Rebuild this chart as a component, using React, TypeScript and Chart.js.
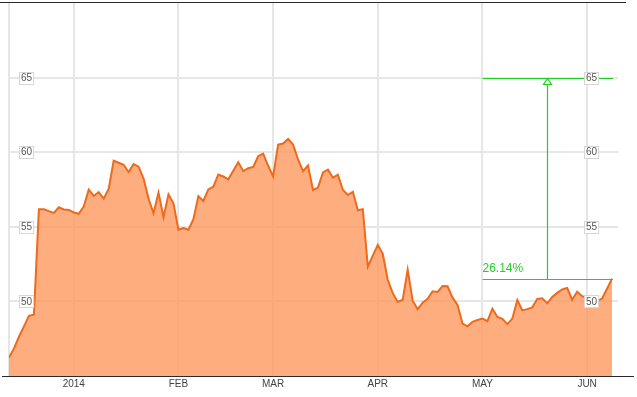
import React, { useEffect, useRef } from 'react';
import { Chart, registerables } from 'chart.js';

Chart.register(...registerables);

// Daily closing prices, one per trading day (mid-Dec 2013 .. early Jun 2014)
const closes: number[] = [
  46.23, 46.85, 47.63, 48.33, 49.03, 49.11, 56.18, 56.18, 56.05, 55.93,
  56.31, 56.16, 56.13, 55.96, 55.87, 56.36, 57.49, 57.07, 57.33, 56.89,
  57.54, 59.43, 59.29, 59.16, 58.67, 59.2, 59.03, 58.23, 56.89, 55.91,
  57.29, 55.65, 57.18, 56.58, 54.8, 54.91, 54.8, 55.51, 57.05, 56.73,
  57.51, 57.69, 58.5, 58.37, 58.18, 58.76, 59.33, 58.73, 58.93, 59.01,
  59.73, 59.91, 59.09, 58.38, 60.51, 60.58, 60.89, 60.51, 59.51, 58.73,
  59.11, 57.47, 57.63, 58.65, 58.83, 58.29, 58.49, 57.47, 57.13, 57.35,
  56.11, 56.18, 52.33, 53.07, 53.79, 53.18, 51.45, 50.55, 49.96, 50.11,
  52.13, 50.05, 49.47, 49.91, 50.18, 50.68, 50.63, 51.03, 51.01, 50.25,
  49.76, 48.51, 48.33, 48.63, 48.75, 48.85, 48.68, 49.51, 48.96, 48.83,
  48.48, 48.85, 50.09, 49.4, 49.48, 49.6, 50.16, 50.21, 49.87, 50.29,
  50.57, 50.8, 50.9, 50.11, 50.65, 50.35, 50.25, 50.1, 49.98, 50.2,
  50.85, 51.53,
];

// Index (trading day) of the first session of each month, and its label
const monthStarts: number[] = [13, 34, 53, 74, 95, 116];
const monthLabels: string[] = ['2014', 'FEB', 'MAR', 'APR', 'MAY', 'JUN'];

const yTickValues: number[] = [50, 55, 60, 65];
const yMin = 45;
const yMax = 70;

const targetPrice = 65;
const rangeStartIndex = 95; // May 1

export default function App() {
  const ref = useRef<HTMLCanvasElement>(null);

  useEffect(() => {
    document.body.style.margin = '0';
    const canvas = ref.current;
    if (!canvas) return;

    const FONT = '"Liberation Sans", Arial, sans-serif';
    const GREEN = '#22d022';
    const lastIdx = closes.length - 1;
    const last = closes[lastIdx];
    const pct = (((targetPrice - last) / last) * 100).toFixed(2) + '%';

    const overlay = {
      id: 'overlay',
      afterDatasetsDraw(chart: any) {
        const { ctx, chartArea: a } = chart;
        const x = chart.scales.x;
        const y = chart.scales.y;
        ctx.save();

        // upside annotation
        const x0 = Math.round(x.getPixelForValue(rangeStartIndex)) + 0.5;
        const x1 = x.getPixelForValue(lastIdx) + 1;
        const xm = Math.round(x.getPixelForValue((rangeStartIndex + lastIdx) / 2)) + 0.5;
        const yT = Math.round(y.getPixelForValue(targetPrice)) + 0.5;
        const yB = Math.round(y.getPixelForValue(last)) + 0.5;
        ctx.strokeStyle = GREEN;
        ctx.lineWidth = 1.2;
        ctx.beginPath();
        ctx.moveTo(x0, yT);
        ctx.lineTo(x1, yT);
        ctx.moveTo(x0, yB);
        ctx.lineTo(x1, yB);
        ctx.moveTo(xm, yB);
        ctx.lineTo(xm, yT + 6);
        ctx.stroke();
        ctx.beginPath();
        ctx.moveTo(xm, yT);
        ctx.lineTo(xm - 4, yT + 6);
        ctx.lineTo(xm + 4, yT + 6);
        ctx.closePath();
        ctx.fillStyle = '#ffffff';
        ctx.fill();
        ctx.stroke();
        ctx.fillStyle = GREEN;
        ctx.font = `12px ${FONT}`;
        ctx.textAlign = 'left';
        ctx.textBaseline = 'alphabetic';
        ctx.fillText(pct, x0, yB - 8);

        // boxed y labels on both sides
        ctx.font = `10px ${FONT}`;
        ctx.textBaseline = 'middle';
        ctx.lineWidth = 1;
        for (const t of y.ticks) {
          const py = y.getPixelForValue(t.value);
          const label = String(t.value);
          const w = ctx.measureText(label).width;
          for (const bx of [a.left + 10, a.right - 34]) {
            const rx = Math.round(bx) + 0.5;
            const ry = Math.round(py - 6) + 0.5;
            ctx.fillStyle = '#ffffff';
            ctx.fillRect(rx, ry, w + 3, 12);
            ctx.strokeStyle = '#d6d6d6';
            ctx.strokeRect(rx, ry, w + 3, 12);
            ctx.fillStyle = '#555555';
            ctx.fillText(label, rx + 1.5, py + 0.5);
          }
        }

        // frame lines
        ctx.strokeStyle = '#2a2a2a';
        ctx.lineWidth = 1;
        ctx.beginPath();
        ctx.moveTo(0, Math.round(a.top) - 0.5);
        ctx.lineTo(626, Math.round(a.top) - 0.5);
        ctx.moveTo(2, Math.round(a.bottom) + 0.5);
        ctx.lineTo(634, Math.round(a.bottom) + 0.5);
        ctx.stroke();
        ctx.restore();
      },
    };

    const chart = new Chart(canvas, {
      type: 'line',
      data: {
        datasets: [
          {
            data: closes.map((v, i) => ({ x: i, y: v })),
            borderColor: '#ee6a1c',
            borderWidth: 2,
            backgroundColor: 'rgba(252,150,90,0.78)',
            fill: 'start',
            pointRadius: 0,
            tension: 0,
          },
        ],
      },
      options: {
        responsive: false,
        animation: false,
        devicePixelRatio: 1,
        layout: { padding: { left: 9, right: 19, top: 3, bottom: 5 } },
        plugins: {
          legend: { display: false },
          tooltip: { enabled: false },
        },
        scales: {
          x: {
            type: 'linear',
            min: 0,
            max: 122.2,
            afterBuildTicks: (scale: any) => {
              scale.ticks = [0, ...monthStarts].map((v) => ({ value: v }));
            },
            ticks: {
              autoSkip: false,
              maxRotation: 0,
              padding: 2,
              color: '#444444',
              font: { family: FONT, size: 10 },
              callback: (value: any) => {
                const k = monthStarts.indexOf(Number(value));
                return k >= 0 ? monthLabels[k] : '';
              },
            },
            grid: { color: '#e6e6e6', lineWidth: 2, drawTicks: false },
            border: { display: false },
          },
          y: {
            type: 'linear',
            min: yMin,
            max: yMax,
            afterBuildTicks: (scale: any) => {
              scale.ticks = yTickValues.map((v) => ({ value: v }));
            },
            ticks: { display: false },
            grid: { color: '#e6e6e6', lineWidth: 2, drawTicks: false },
            border: { display: false },
          },
        },
      },
      plugins: [overlay],
    });

    return () => chart.destroy();
  }, []);

  return (
    <canvas
      ref={ref}
      width={637}
      height={397}
      style={{ display: 'block', width: 637, height: 397 }}
    />
  );
}
